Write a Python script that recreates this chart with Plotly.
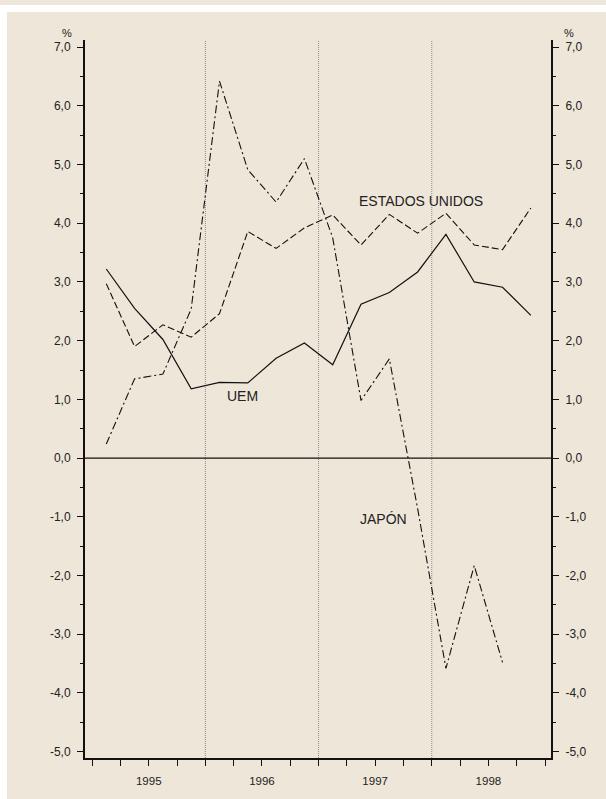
import plotly.graph_objects as go

# ---------------- data ----------------
periods = ["1995-T1", "1995-T2", "1995-T3", "1995-T4",
           "1996-T1", "1996-T2", "1996-T3", "1996-T4",
           "1997-T1", "1997-T2", "1997-T3", "1997-T4",
           "1998-T1", "1998-T2", "1998-T3", "1998-T4"]
uem = [3.22, 2.55, 2.02, 1.18, 1.29, 1.28, 1.70, 1.96,
       1.59, 2.62, 2.82, 3.17, 3.81, 3.00, 2.91, 2.43]
eeuu = [2.97, 1.90, 2.27, 2.06, 2.46, 3.86, 3.57, 3.92,
        4.14, 3.63, 4.15, 3.83, 4.17, 3.63, 3.55, 4.26]
japon = [0.24, 1.35, 1.43, 2.54, 6.42, 4.91, 4.36, 5.10,
         3.75, 0.98, 1.69, -0.86, -3.58, -1.83, -3.48]
years = [1995, 1996, 1997, 1998]
year_labels = ["1995", "1996", "1997", "1998"]
year_breaks = [1996, 1997, 1998]
y_ticks = [7, 6, 5, 4, 3, 2, 1, 0, -1, -2, -3, -4, -5]
y_tick_labels = ["7,0", "6,0", "5,0", "4,0", "3,0", "2,0", "1,0", "0,0",
                 "-1,0", "-2,0", "-3,0", "-4,0", "-5,0"]

def to_x(p):
    y, q = p.split("-T")
    return int(y) + (int(q) - 0.5) / 4.0

x_all = [to_x(p) for p in periods]

# ---------------- style ----------------
BG = "#EEE7D9"
FONT = "Liberation Sans, Arial, Helvetica, sans-serif"
W, H = 606, 799
ML, MR, MT, MB = 85, 55, 40, 41
PW, PH = W - ML - MR, H - MT - MB

def px_x(px):
    return (px - ML) / PW

def px_y(py):
    return 1 - (py - MT) / PH

fig = go.Figure()

fig.add_trace(go.Scatter(x=x_all, y=uem, mode="lines", name="UEM",
                         line=dict(color="#111", width=1.2), showlegend=False))
fig.add_trace(go.Scatter(x=x_all, y=eeuu, mode="lines", name="ESTADOS UNIDOS",
                         line=dict(color="#111", width=1.1, dash="7px,3px"), showlegend=False))
fig.add_trace(go.Scatter(x=x_all[:len(japon)], y=japon, mode="lines", name="JAPÓN",
                         line=dict(color="#111", width=1.1, dash="8px,3px,2px,3px"), showlegend=False))
# invisible trace to carry the right-hand axis
fig.add_trace(go.Scatter(x=x_all, y=uem, yaxis="y2", mode="lines",
                         line=dict(width=0), opacity=0, hoverinfo="skip", showlegend=False))

yrange = [-5.107, 7.12]
xrange = [1994.937, 1999.053]

yaxis_common = dict(
    range=yrange, tickvals=y_ticks, ticktext=y_tick_labels,
    ticks="outside", ticklen=6, tickwidth=1, tickcolor="#111",
    showline=True, linecolor="#111", linewidth=2,
    showgrid=False, zeroline=False,
    tickfont=dict(family=FONT, size=12, color="#222"),
    minor=dict(dtick=0.5, tick0=0, ticks="outside", ticklen=3, tickwidth=1,
               tickcolor="#111", showgrid=False),
    fixedrange=True,
)

fig.update_layout(
    width=W, height=H,
    margin=dict(l=ML, r=MR, t=MT, b=MB, pad=0),
    paper_bgcolor=BG, plot_bgcolor=BG,
    font=dict(family=FONT, color="#222"),
    xaxis=dict(
        range=xrange,
        tickvals=[y + 0.5 for y in years], ticktext=year_labels,
        ticks="outside", ticklen=6, tickwidth=1, tickcolor="#111",
        showline=True, linecolor="#111", linewidth=2,
        showgrid=False, zeroline=False,
        ticklabelstandoff=5,
        tickfont=dict(family=FONT, size=11.5, color="#222"),
        minor=dict(dtick=0.25, tick0=1995, ticks="outside", ticklen=6, tickwidth=1,
                   tickcolor="#111", showgrid=False),
        fixedrange=True,
    ),
    yaxis=dict(**yaxis_common, side="left", ticklabelstandoff=4),
    yaxis2=dict(**yaxis_common, side="right", overlaying="y", matches="y",
                ticklabelstandoff=4),
)

# zero line
fig.add_hline(y=0, line=dict(color="#111", width=1.2))

# dotted year separators
for yb in year_breaks:
    fig.add_shape(type="line", xref="x", yref="paper", x0=yb, x1=yb, y0=0, y1=1,
                  line=dict(color="#8a8a8a", width=1, dash="1px,1px"), layer="below")

# white page gaps (frame of the panel)
fig.add_shape(type="rect", xref="paper", yref="paper",
              x0=px_x(-5), x1=px_x(W + 5), y0=px_y(12), y1=px_y(5),
              fillcolor="white", line=dict(width=0), layer="below")
fig.add_shape(type="rect", xref="paper", yref="paper",
              x0=px_x(-5), x1=px_x(7), y0=px_y(H + 5), y1=px_y(12),
              fillcolor="white", line=dict(width=0), layer="below")

# series labels
lab_font = dict(family=FONT, size=14, color="#222")
fig.add_annotation(x=1997.907, y=4.37, text="ESTADOS UNIDOS", showarrow=False, font=lab_font)
fig.add_annotation(x=1996.325, y=1.06, text="UEM", showarrow=False, font=lab_font)
fig.add_annotation(x=1997.577, y=-1.04, text="JAPÓN", showarrow=False, font=lab_font)

# % unit labels
pct_font = dict(family=FONT, size=11, color="#222")
fig.add_annotation(xref="paper", yref="paper", x=px_x(66.7), y=px_y(33.5), text="%",
                   showarrow=False, font=pct_font, xanchor="center", yanchor="middle")
fig.add_annotation(xref="paper", yref="paper", x=px_x(569.3), y=px_y(33.5), text="%",
                   showarrow=False, font=pct_font, xanchor="center", yanchor="middle")

fig.write_html(
    "out.html",
    config={"displayModeBar": False},
    post_script="document.body.style.margin='0px';document.body.style.overflow='hidden';",
)
